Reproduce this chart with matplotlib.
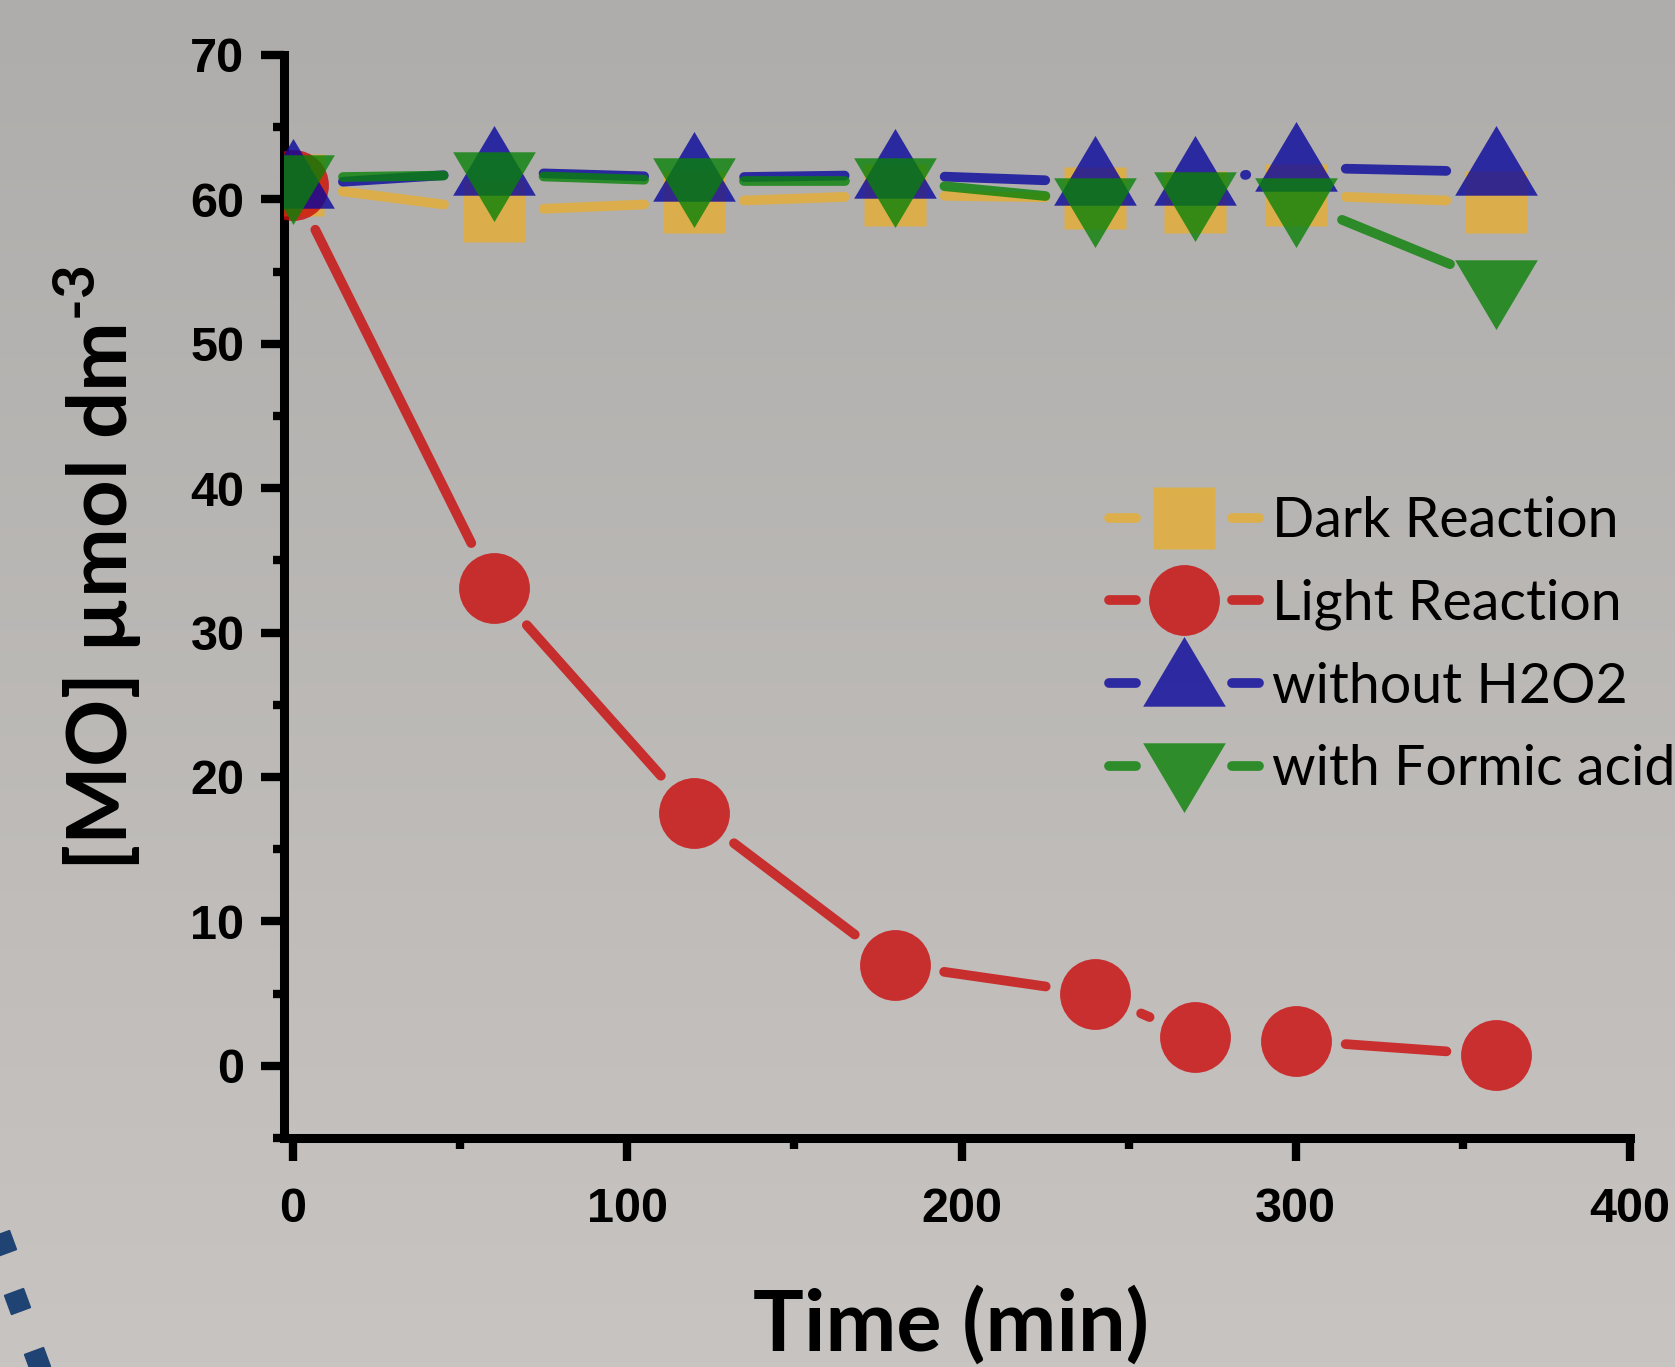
import numpy as np
import matplotlib
matplotlib.use("Agg")
import matplotlib.pyplot as plt
from matplotlib.path import Path
from matplotlib.markers import MarkerStyle
from matplotlib.lines import Line2D
from matplotlib.legend_handler import HandlerBase
from matplotlib.ticker import MultipleLocator
from matplotlib.transforms import Affine2D

# values
time_min = [0, 60, 120, 180, 240, 270, 300, 360]
dark_reaction = [61.0, 59.2, 59.8, 60.3, 60.1, 59.8, 60.3, 59.8]
light_reaction = [61.0, 33.1, 17.5, 7.0, 5.0, 2.0, 1.75, 0.75]
without_h2o2 = [61.0, 61.9, 61.5, 61.7, 61.2, 61.2, 62.2, 61.9]
with_formic = [61.5, 61.7, 61.25, 61.25, 59.9, 60.3, 59.9, 54.2]

series_labels = ["Dark Reaction", "Light Reaction", "without H2O2", "with Formic acid"]
x_ticks = [0, 100, 200, 300, 400]
y_ticks = [0, 10, 20, 30, 40, 50, 60, 70]

colors = ["#e7ae32", "#ca0b0b", "#0a079d", "#0a8108"]
ALPHA = 0.8

plt.rcParams["font.family"] = "Liberation Sans"
plt.rcParams["font.weight"] = "bold"
plt.rcParams["mathtext.fontset"] = "custom"
plt.rcParams["mathtext.rm"] = "Lato:bold"
plt.rcParams["mathtext.bf"] = "Lato:bold"

# Origin style triangles, centred on the centroid
tri_up = Path([(0, 46.7), (-41.5, -23.3), (41.5, -23.3), (0, 46.7)], closed=True)
tri_down = Path([(0, -46.7), (-41.5, 23.3), (41.5, 23.3), (0, -46.7)], closed=True)
markers = ["s", "o", MarkerStyle(tri_up), MarkerStyle(tri_down)]
msizes = [45, 51, 67, 67]
LW = 7
GAP = 50  # pixels between symbol centre and line end


class GapLineHandler(HandlerBase):
    def create_artists(self, legend, orig_handle, xdescent, ydescent,
                       width, height, fontsize, trans):
        y = (height - ydescent) / 2.0
        x0 = -xdescent
        arts = []
        for a, b in [(0.03, 0.20), (0.80, 0.97)]:
            arts.append(Line2D([x0 + a * width, x0 + b * width], [y, y],
                               color=orig_handle.get_color(), lw=orig_handle.get_linewidth(),
                               alpha=ALPHA, solid_capstyle="round", transform=trans))
        arts.append(Line2D([x0 + 0.5 * width], [y], ls="none",
                           marker=orig_handle.get_marker(), ms=orig_handle.get_markersize(),
                           mfc=orig_handle.get_color(), mec="none", alpha=ALPHA,
                           transform=trans))
        return arts


def gapped_line(ax, x, y, color, z):
    pts = ax.transData.transform(np.column_stack([x, y]))
    inv = ax.transData.inverted()
    for p0, p1 in zip(pts[:-1], pts[1:]):
        d = p1 - p0
        L = np.hypot(d[0], d[1])
        if L - 2 * GAP <= 1.0:
            continue
        u = d / L
        seg = inv.transform(np.array([p0 + u * GAP, p1 - u * GAP]))
        ax.plot(seg[:, 0], seg[:, 1], color=color, lw=LW, alpha=ALPHA,
                solid_capstyle="round", zorder=z)


fig = plt.figure(figsize=(16.75, 13.67), dpi=100)

# grey gradient backdrop
bg = fig.add_axes([0, 0, 1, 1], zorder=-10)
top = np.array([174, 173, 171]) / 255
bot = np.array([200, 196, 193]) / 255
grad = np.linspace(0, 1, 256)[:, None, None] * (bot - top) + top
bg.imshow(grad, aspect="auto", extent=[0, 1, 0, 1])
bg.axis("off")

ax = fig.add_axes([284 / 1675, 1 - 1138 / 1367, (1630 - 284) / 1675, (1138 - 55) / 1367])
ax.set_facecolor("none")
ax.set_xlim(-2.7, 400)
ax.set_ylim(-5, 70)

all_series = [dark_reaction, light_reaction, without_h2o2, with_formic]
handles = []
for i, vals in enumerate(all_series):
    gapped_line(ax, time_min, vals, colors[i], 2 + i)
    ax.plot(time_min, vals, ls="none", marker=markers[i], ms=msizes[i],
            mfc=colors[i], mec="none", alpha=ALPHA, zorder=6 + i)
    handles.append(Line2D([], [], color=colors[i], lw=LW, marker=markers[i], ms=msizes[i]))

ax.legend(handles, series_labels, handler_map={Line2D: GapLineHandler()},
          loc="upper left", bbox_to_anchor=(0.609, 0.5928), frameon=False,
          borderpad=0, borderaxespad=0, handlelength=2.88, handleheight=0.7,
          handletextpad=0.15, labelspacing=0.57,
          prop={"family": "Lato", "size": 40, "weight": "normal"})

ax.spines[["top", "right"]].set_visible(False)
for s in ["left", "bottom"]:
    ax.spines[s].set_linewidth(6.5)

ax.set_xticks(x_ticks)
ax.set_yticks(y_ticks)
ax.xaxis.set_minor_locator(MultipleLocator(50))
ax.yaxis.set_minor_locator(MultipleLocator(5))
ax.tick_params(which="major", direction="out", length=16.5, width=6, labelsize=35)
ax.tick_params(which="minor", direction="out", length=8, width=6)
ax.tick_params(axis="x", which="major", pad=19)
ax.tick_params(axis="y", which="major", pad=12)

ax.set_xlabel("Time (min)", fontfamily="Lato", fontweight="bold", fontsize=61, va="baseline")
ax.xaxis.set_label_coords(0.4955, -0.1965)
ax.set_ylabel("[MO] µmol dm$^{\\text{-3}}$", fontfamily="Lato", fontweight="bold",
              fontsize=60, va="baseline")
ax.yaxis.set_label_coords(-0.1159, 0.526)

# dotted arc fragment in the lower left corner
fig.add_artist(Line2D([3 / 1675, 17 / 1675, 37 / 1675],
                      [1 - 1243 / 1367, 1 - 1301 / 1367, 1 - 1360 / 1367],
                      transform=fig.transFigure, ls="none",
                      marker=MarkerStyle("s", transform=Affine2D().rotate_deg(20)),
                      ms=15, color="#1f4373"))

fig.savefig("out.png", dpi=100)
